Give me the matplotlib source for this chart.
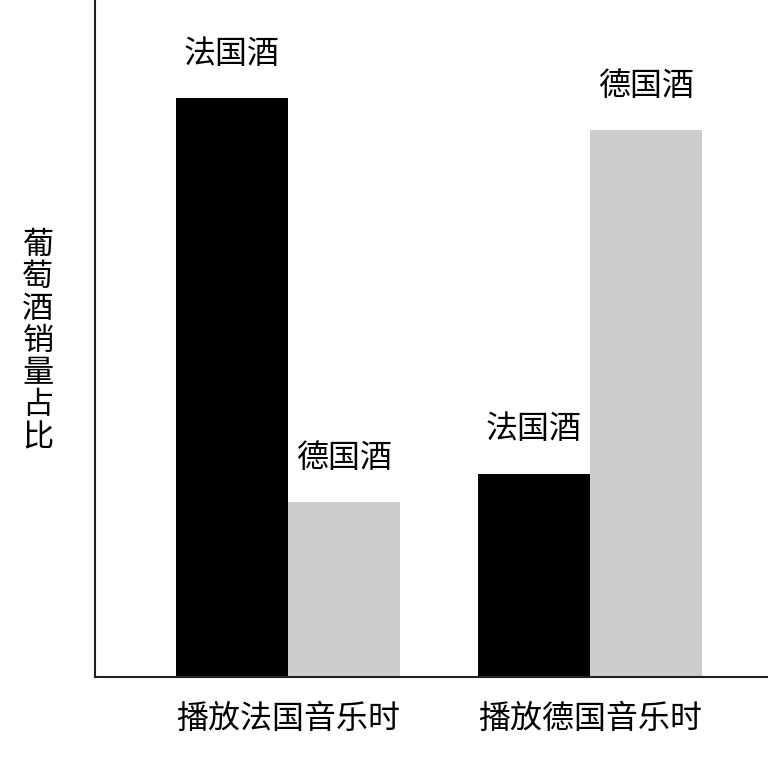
import matplotlib
matplotlib.use("Agg")
import matplotlib.pyplot as plt
import numpy as np

plt.rcParams['font.family'] = ['Noto Sans CJK SC', 'DejaVu Sans']

groups = ["播放法国音乐时", "播放德国音乐时"]
series_names = ["法国酒", "德国酒"]
french_wine = [85.5, 30.0]
german_wine = [25.8, 80.8]
ylabel = "葡萄酒销量占比"

colors = ["#000000", "#cccccc"]

fig = plt.figure(figsize=(7.68, 7.58), dpi=100)
ax = fig.add_axes([95/768, (758-677)/758, (768-95)/768, 677/758])

x = np.arange(len(groups))
w = 0.372
for i, (vals, name) in enumerate(zip([french_wine, german_wine], series_names)):
    pos = x + (i - 0.5) * w
    ax.bar(pos, vals, width=w, color=colors[i], edgecolor='none')
    for p, v in zip(pos, vals):
        ax.annotate(name, xy=(p, v), xytext=(0, 32), textcoords='offset points',
                    ha='center', va='center', fontsize=23, fontweight='medium')

for xi, g in zip(x, groups):
    ax.annotate(g, xy=(xi, 0), xycoords=('data', 'axes fraction'), xytext=(0, -30),
                textcoords='offset points', ha='center', va='center', fontsize=23,
                fontweight='medium')

ax.set_xlim(-0.639, 1.589)
ax.set_ylim(0, 100)
ax.set_xticks([])
ax.set_yticks([])
for s in ['top', 'right']:
    ax.spines[s].set_visible(False)
for s in ['left', 'bottom']:
    ax.spines[s].set_linewidth(1.5)
    ax.spines[s].set_color('#222222')

fig.text(38/768, 1 - 341/758, "\n".join(ylabel), ha='center', va='center',
         fontsize=22.5, linespacing=1.0, fontweight='medium')

fig.savefig("out.png", dpi=100)
